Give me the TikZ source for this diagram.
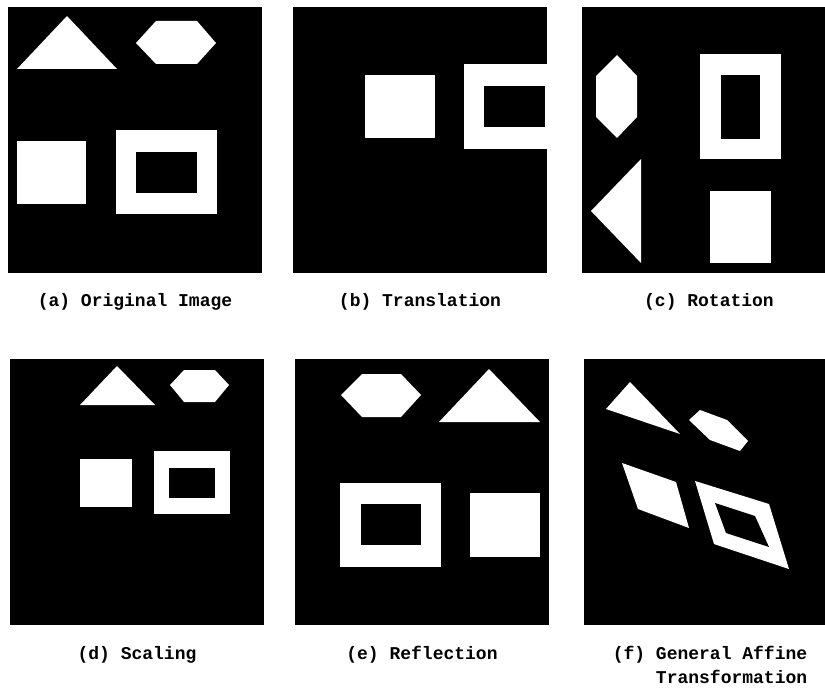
\documentclass[tikz,border=0pt]{standalone}
\usepackage{fontspec}
\setmonofont{Liberation Mono}
\begin{document}
\begin{tikzpicture}[x=1pt,y=-1pt,
  panel/.style={fill=black,draw=none},
  wshape/.style={fill=white,draw=none},
  hole/.style={fill=black,draw=none},
  caption/.style={font=\ttfamily\bfseries\fontsize{18}{24}\selectfont,anchor=base,inner sep=0pt}]
\useasboundingbox (0,0) rectangle (825,690);
\fill[white] (0,0) rectangle (825,690);
% ---------- (a) Original ----------
\fill[panel] (8,7) rectangle (262,273);
\fill[wshape] (67,16) -- (117,69) -- (17,69) -- cycle;
\fill[wshape] (136,43) -- (156,21) -- (197,21) -- (216,43) -- (197,64) -- (156,64) -- cycle;
\fill[wshape] (17,141) rectangle (86,204);
\fill[wshape] (116,130) rectangle (217,214);
\fill[hole] (136,152) rectangle (197,193);
\node[caption] (capa) at (135,306) {(a) Original Image};
% ---------- (b) Translation ----------
\fill[panel] (293,7) rectangle (547,273);
\fill[wshape] (365,75) rectangle (435,138);
\fill[wshape] (464,64) rectangle (547,149);
\fill[hole] (484,86) rectangle (545,127);
\node[caption] (capb) at (420,306) {(b) Translation};
% ---------- (c) Rotation ----------
\fill[panel] (582,7) rectangle (825,273);
\fill[wshape] (617,55) -- (637,76) -- (637,117) -- (617,138) -- (596,117) -- (596,76) -- cycle;
\fill[wshape] (641,159) -- (641,263) -- (591,211) -- cycle;
\fill[wshape] (700,54) rectangle (781,159);
\fill[hole] (721,75) rectangle (760,139);
\fill[wshape] (710,191) rectangle (771,263);
\node[caption] (capc) at (709,306) {(c) Rotation};
% ---------- (d) Scaling ----------
\fill[panel] (10,359) rectangle (264,625);
\fill[wshape] (117,366) -- (155,405) -- (80,405) -- cycle;
\fill[wshape] (170,385) -- (184,370) -- (215,370) -- (229,385) -- (215,402) -- (184,402) -- cycle;
\fill[wshape] (80,459) rectangle (132,507);
\fill[wshape] (154,451) rectangle (230,514);
\fill[hole] (169,468) rectangle (215,498);
\node[caption] (capd) at (137,659) {(d) Scaling};
% ---------- (e) Reflection ----------
\fill[panel] (295,359) rectangle (549,625);
\fill[wshape] (341,395) -- (362,374) -- (401,374) -- (421,395) -- (401,417) -- (362,417) -- cycle;
\fill[wshape] (489,369) -- (540,422) -- (439,422) -- cycle;
\fill[wshape] (340,483) rectangle (441,567);
\fill[hole] (361,504) rectangle (421,545);
\fill[wshape] (470,493) rectangle (540,557);
\node[caption] (cape) at (422,659) {(e) Reflection};
% ---------- (f) General affine ----------
\fill[panel] (584,359) rectangle (825,625);
\fill[wshape] (630,382) -- (680,434) -- (606,409) -- cycle;
\fill[wshape] (689,420) -- (700,410) -- (727,420) -- (748,441) -- (740,451) -- (710,440) -- cycle;
\fill[wshape] (622,463) -- (676,482) -- (689,528) -- (638,509) -- cycle;
\fill[wshape] (695,481) -- (769,504) -- (789,569) -- (714,544) -- cycle;
\fill[hole] (715,503) -- (755,516) -- (769,547) -- (726,533) -- cycle;
\node[caption,align=right,anchor=base] (capf) at (710,683) {(f) General Affine\\Transformation};
\end{tikzpicture}
\end{document}
